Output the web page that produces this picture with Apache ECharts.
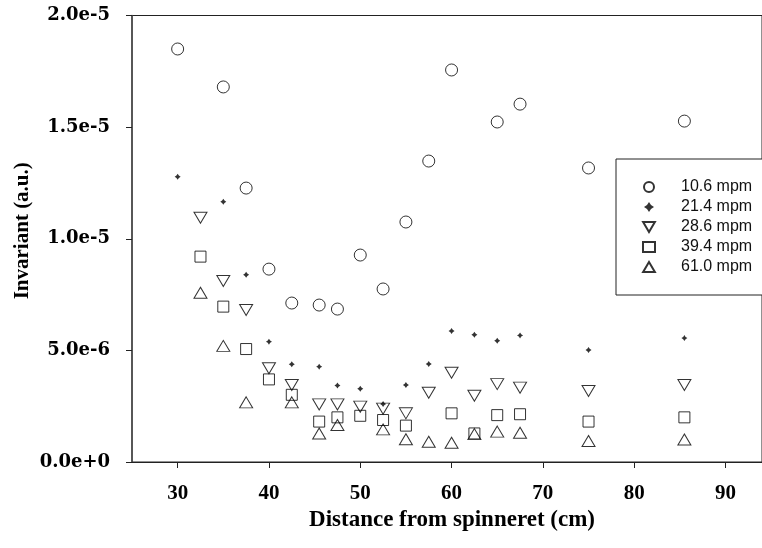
<!DOCTYPE html>
<html>
<head>
<meta charset="utf-8">
<script src="https://cdn.jsdelivr.net/npm/echarts@6/dist/echarts.min.js"></script>
<style>html,body{margin:0;padding:0;background:#fff}#c{width:762px;height:548px}</style>
</head>
<body>
<div id="c"></div>
<script>
// ---- data ----
const seriesNames = ['10.6 mpm', '21.4 mpm', '28.6 mpm', '39.4 mpm', '61.0 mpm'];

const x106 = [30, 35, 37.5, 40, 42.5, 45.5, 47.5, 50, 52.5, 55, 57.5, 60, 65, 67.5, 75, 85.5];
const y106 = [1.850e-5, 1.680e-5, 1.227e-5, 8.64e-6, 7.12e-6, 7.03e-6, 6.85e-6, 9.27e-6, 7.75e-6, 1.075e-5, 1.348e-5, 1.756e-5, 1.523e-5, 1.603e-5, 1.317e-5, 1.527e-5];

const x214 = [30, 35, 37.5, 40, 42.5, 45.5, 47.5, 50, 52.5, 55, 57.5, 60, 62.5, 65, 67.5, 75, 85.5];
const y214 = [1.278e-5, 1.166e-5, 8.39e-6, 5.39e-6, 4.38e-6, 4.27e-6, 3.43e-6, 3.28e-6, 2.60e-6, 3.45e-6, 4.39e-6, 5.87e-6, 5.70e-6, 5.43e-6, 5.67e-6, 5.02e-6, 5.55e-6];

const x286 = [32.5, 35, 37.5, 40, 42.5, 45.5, 47.5, 50, 52.5, 55, 57.5, 60, 62.5, 65, 67.5, 75, 85.5];
const y286 = [1.094e-5, 8.11e-6, 6.81e-6, 4.20e-6, 3.45e-6, 2.58e-6, 2.58e-6, 2.48e-6, 2.39e-6, 2.18e-6, 3.10e-6, 4.00e-6, 2.97e-6, 3.49e-6, 3.33e-6, 3.18e-6, 3.45e-6];

const x394 = [32.5, 35, 37.5, 40, 42.5, 45.5, 47.5, 50, 52.5, 55, 60, 62.5, 65, 67.5, 75, 85.5];
const y394 = [9.20e-6, 6.96e-6, 5.06e-6, 3.70e-6, 3.01e-6, 1.81e-6, 2.00e-6, 2.07e-6, 1.88e-6, 1.63e-6, 2.18e-6, 1.28e-6, 2.10e-6, 2.14e-6, 1.81e-6, 2.00e-6];

const x610 = [32.5, 35, 37.5, 42.5, 45.5, 47.5, 52.5, 55, 57.5, 60, 62.5, 65, 67.5, 75, 85.5];
const y610 = [7.58e-6, 5.20e-6, 2.67e-6, 2.67e-6, 1.28e-6, 1.66e-6, 1.46e-6, 1.02e-6, 0.91e-6, 0.86e-6, 1.25e-6, 1.36e-6, 1.31e-6, 0.94e-6, 1.01e-6];

const xTickValues = [30, 40, 50, 60, 70, 80, 90];
const yTickLabels = ['0.0e+0', '5.0e-6', '1.0e-5', '1.5e-5', '2.0e-5'];

// ---- build ----
function pairs(xs, ys) { return xs.map((x, i) => [x, ys[i]]); }

const starPath = 'path://M0,-10 L4,-4 L10,0 L4,4 L0,10 L-4,4 L-10,0 L-4,-4 Z';
const downTri = 'path://M-10,0 L10,0 L0,17 Z';
const upTri = 'path://M0,0 L10,17 L-10,17 Z';

const hollow = { color: 'rgba(0,0,0,0)', borderColor: '#000', borderWidth: 1 };

const chart = echarts.init(document.getElementById('c'), null, { renderer: 'canvas' });
chart.setOption({
  animation: false,
  backgroundColor: '#fff',
  grid: { left: 132, top: 15.5, bottom: 86, right: 0, show: true, borderColor: '#222', borderWidth: 1, backgroundColor: 'transparent' },
  xAxis: {
    type: 'value', min: 25, max: 94,
    name: 'Distance from spinneret (cm)', nameLocation: 'middle', nameGap: 47, nameMoveOverlap: false,
    nameTextStyle: { fontFamily: 'Liberation Serif', fontWeight: 'bold', fontSize: 23, color: '#000', padding: [0, 0, 0, 10] },
    axisLine: { show: true, lineStyle: { color: '#222', width: 1 } },
    axisTick: { show: true, inside: false, length: 6, lineStyle: { color: '#222' }, customValues: xTickValues },
    axisLabel: { margin: 21, fontFamily: 'Liberation Serif', fontWeight: 'bold', fontSize: 21, color: '#000', customValues: xTickValues },
    splitLine: { show: false }
  },
  yAxis: {
    type: 'value', min: 0, max: 2e-5, interval: 5e-6,
    name: 'Invariant (a.u.)', nameLocation: 'middle', nameGap: 99, nameRotate: 90, nameMoveOverlap: false,
    nameTextStyle: { fontFamily: 'Liberation Serif', fontWeight: 'bold', fontSize: 21, color: '#000', padding: [0, 0, 0, 16] },
    axisLine: { show: true, lineStyle: { color: '#444', width: 1.5 } },
    axisTick: { show: true, inside: false, length: 6, lineStyle: { color: '#222' } },
    axisLabel: {
      margin: 22, fontFamily: 'DejaVu Serif', fontWeight: 'bold', fontSize: 18, color: '#000',
      formatter: v => yTickLabels[Math.round(v / 5e-6)]
    },
    splitLine: { show: false }
  },
  legend: {
    orient: 'vertical', left: 616, top: 159,
    padding: [20, 24, 20, 26],
    itemWidth: 12, itemHeight: 10, itemGap: 4,
    borderColor: '#222', borderWidth: 1, backgroundColor: '#fff',
    formatter: name => '{sp|}' + name,
    textStyle: { fontFamily: 'Liberation Sans', fontSize: 16, lineHeight: 16, color: '#111', rich: { sp: { width: 21 } } },
    data: seriesNames
  },
  series: [
    { name: seriesNames[0], type: 'scatter', symbol: 'circle', symbolSize: 12, itemStyle: hollow, data: pairs(x106, y106) },
    { name: seriesNames[1], type: 'scatter', symbol: starPath, symbolSize: 6, itemStyle: { color: '#000' }, data: pairs(x214, y214) },
    { name: seriesNames[2], type: 'scatter', symbol: downTri, symbolSize: [13, 11], itemStyle: hollow, data: pairs(x286, y286) },
    { name: seriesNames[3], type: 'scatter', symbol: 'rect', symbolSize: 11, itemStyle: hollow, data: pairs(x394, y394) },
    { name: seriesNames[4], type: 'scatter', symbol: upTri, symbolSize: [13, 11], itemStyle: hollow, data: pairs(x610, y610) }
  ]
});
</script>
</body>
</html>
